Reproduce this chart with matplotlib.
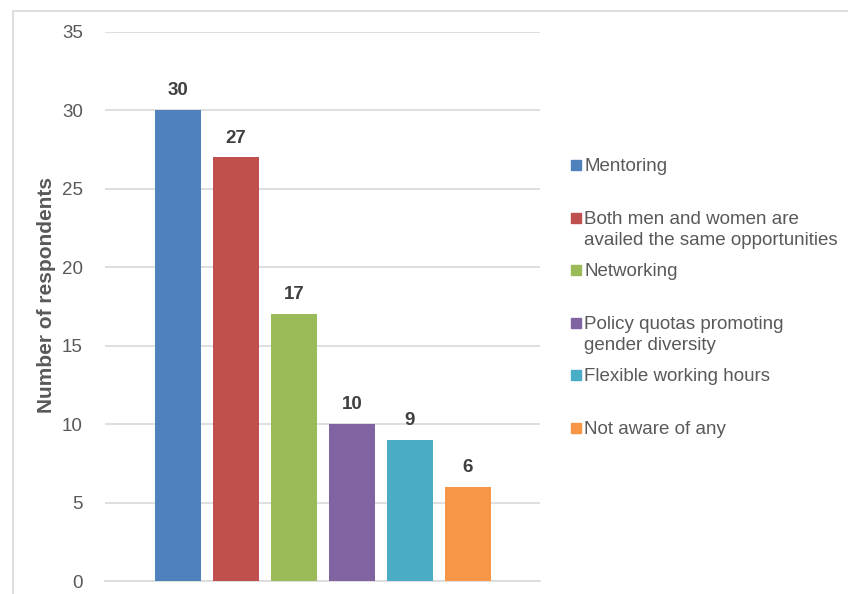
import matplotlib.pyplot as plt
from matplotlib.patches import Rectangle

# chart data
categories = ["Mentoring",
              "Both men and women are\navailed the same opportunities",
              "Networking",
              "Policy quotas promoting\ngender diversity",
              "Flexible working hours",
              "Not aware of any"]
counts = [30, 27, 17, 10, 9, 6]
colors = ["#4F81BD", "#C0504D", "#9BBB59", "#8064A2", "#4BACC6", "#F79646"]
yticks = [0, 5, 10, 15, 20, 25, 30, 35]

plt.rcParams['font.family'] = ['Liberation Sans', 'DejaVu Sans']

W, H = 848, 594
fig = plt.figure(figsize=(W / 100, H / 100), dpi=100)
# plot area in pixels: x 105..540, y 32..581
ax = fig.add_axes([105 / W, 1 - 581 / H, (540 - 105) / W, (581 - 32) / H])

xs = list(range(len(counts)))
bars = ax.bar(xs, counts, width=46 / 58, color=colors, zorder=3)
for b, v in zip(bars, counts):
    ax.text(b.get_x() + b.get_width() / 2, v + 0.7, str(v), ha='center', va='bottom',
            fontsize=13.5, fontweight='bold', color='#404040')

ax.set_xlim(-1.259, 6.241)
ax.set_ylim(0, 35)
ax.set_yticks(yticks)
ax.set_xticks([])
ax.yaxis.grid(True, color='#D9D9D9', linewidth=1.2, zorder=0)
for s in ['top', 'right', 'left']:
    ax.spines[s].set_visible(False)
ax.spines['bottom'].set_color('#D9D9D9')
ax.spines['bottom'].set_linewidth(1.2)
ax.tick_params(axis='y', length=0, labelsize=13.5, labelcolor='#595959', pad=16)

fig.text(47 / W, 1 - 295 / H, "Number of respondents", rotation=90, ha='center', va='center',
         fontsize=15, fontweight='bold', color='#595959')

# legend, one slot per entry
for i, (lab, c) in enumerate(zip(categories, colors)):
    y = 165 + i * 52.6
    fig.add_artist(Rectangle((571 / W, 1 - (y + 5) / H), 10 / W, 10 / H,
                             transform=fig.transFigure, color=c))
    fig.text(584 / W, 1 - (y - 7) / H, lab, ha='left', va='top', fontsize=13.5,
             color='#595959', linespacing=1.35)

# chart border
fig.add_artist(Rectangle((13 / W, -0.01), 1.0, 1 - 11 / H + 0.01, transform=fig.transFigure,
                         fill=False, edgecolor='#D9D9D9', linewidth=1.2))

fig.savefig("out.png", dpi=100)
